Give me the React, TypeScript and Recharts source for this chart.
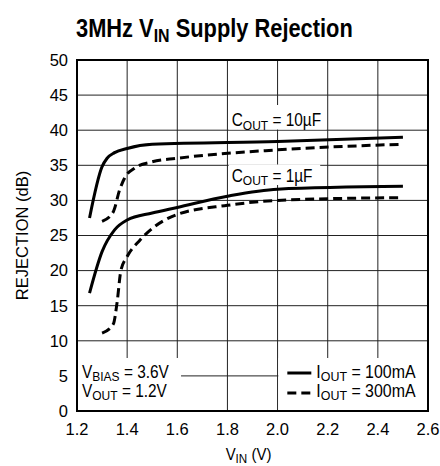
import React from 'react';
import { LineChart, Line, XAxis, YAxis, CartesianGrid, ReferenceArea } from 'recharts';

const FONT = "'Liberation Sans', Arial, Helvetica, sans-serif";

// V_IN (V) / rejection (dB) per curve
const vin10u100 = [1.25, 1.3, 1.32, 1.35, 1.4, 1.5, 2.0, 2.5];
const rej10u100 = [27.5, 34.8, 36.0, 36.8, 37.4, 38.0, 38.4, 39.0];

const vin10u300 = [1.3, 1.345, 1.37, 1.39, 1.43, 1.5, 1.6, 2.0, 2.5];
const rej10u300 = [27.0, 28.4, 31.5, 33.2, 34.6, 35.5, 36.0, 37.2, 38.0];

const vin1u100 = [1.25, 1.3, 1.35, 1.4, 1.5, 1.6, 1.8, 2.0, 2.5];
const rej1u100 = [16.8, 22.7, 25.8, 27.2, 28.2, 29.0, 30.6, 31.6, 32.0];

const vin1u300 = [1.3, 1.345, 1.36, 1.375, 1.4, 1.45, 1.5, 1.6, 1.8, 2.0, 2.5];
const rej1u300 = [11.1, 12.4, 15.5, 20.0, 22.0, 24.3, 26.0, 28.0, 29.3, 30.0, 30.4];

const xTicks = [1.2, 1.4, 1.6, 1.8, 2.0, 2.2, 2.4, 2.6];
const yTicks = [0, 5, 10, 15, 20, 25, 30, 35, 40, 45, 50];

const legendItems = [
  { label: '100mA', dash: undefined as string | undefined },
  { label: '300mA', dash: '9 5' },
];

const zip = (xs: number[], ys: number[]) => xs.map((x, i) => ({ x, y: ys[i] }));

const curves = [
  { key: '10u100', data: zip(vin10u100, rej10u100), dash: undefined as string | undefined },
  { key: '10u300', data: zip(vin10u300, rej10u300), dash: '9 5' },
  { key: '1u100', data: zip(vin1u100, rej1u100), dash: undefined as string | undefined },
  { key: '1u300', data: zip(vin1u300, rej1u300), dash: '9 5' },
];

// condensed-looking text: regular font squeezed horizontally
const Narrow = ({ x, y, sx = 0.88, size = 17.5, anchor, children }: any) => (
  <g transform={`translate(${x} ${y}) scale(${sx} 1)`}>
    <text x={0} y={0} fontSize={size} fontFamily={FONT} fill="#000" textAnchor={anchor}>
      {children}
    </text>
  </g>
);

const Sub = ({ main, sub, rest, size = 17.5 }: { main: string; sub: string; rest: string; size?: number }) => (
  <>
    {main}
    <tspan fontSize={size * 0.78} dy={3}>{sub}</tspan>
    <tspan dy={-3}>{rest}</tspan>
  </>
);

function CapLabel(props: any) {
  const { viewBox, text } = props;
  if (!viewBox) return null;
  const { x, y, height } = viewBox;
  return (
    <Narrow x={x + 3} y={y + height - 3}>
      <Sub main="C" sub="OUT" rest={text} />
    </Narrow>
  );
}

function CondLabel(props: any) {
  const { viewBox } = props;
  if (!viewBox) return null;
  const { x, y } = viewBox;
  return (
    <g>
      <Narrow x={x + 5} y={y + 20}>
        <Sub main="V" sub="BIAS" rest=" = 3.6V" />
      </Narrow>
      <Narrow x={x + 5} y={y + 39}>
        <Sub main="V" sub="OUT" rest=" = 1.2V" />
      </Narrow>
    </g>
  );
}

function LegendLabel(props: any) {
  const { viewBox } = props;
  if (!viewBox) return null;
  const { x, y } = viewBox;
  return (
    <g>
      {legendItems.map((item, i) => (
        <g key={item.label}>
          <line x1={x + 9} x2={x + 33} y1={y + 15 + i * 20} y2={y + 15 + i * 20} stroke="#000" strokeWidth={3} strokeDasharray={item.dash} />
          <Narrow x={x + 38} y={y + 20 + i * 19} sx={0.91}>
            <Sub main="I" sub="OUT" rest={` = ${item.label}`} />
          </Narrow>
        </g>
      ))}
    </g>
  );
}

function XTitle(props: any) {
  const { viewBox } = props;
  if (!viewBox) return null;
  const { x, y, width } = viewBox;
  return (
    <Narrow x={x + width / 2 - 4} y={y + 49} size={17} anchor="middle">
      <Sub main="V" sub="IN" rest=" (V)" size={17} />
    </Narrow>
  );
}

function YTitle(props: any) {
  const { viewBox } = props;
  if (!viewBox) return null;
  const { y, height } = viewBox;
  const cx = 22;
  const cy = y + height / 2;
  return (
    <text x={cx} y={cy} transform={`rotate(-90 ${cx} ${cy})`} textAnchor="middle" dominantBaseline="central" fontSize={16.5} fontFamily={FONT} fill="#000">
      REJECTION (dB)
    </text>
  );
}

export default function App() {
  return (
    <div style={{ position: 'absolute', left: 0, top: 0, width: 440, height: 466, background: '#fff' }}>
      <LineChart width={440} height={466} margin={{ top: 60, right: 12, bottom: 25, left: 37 }}>
        <CartesianGrid stroke="#222" strokeWidth={1} />
        <XAxis
          type="number"
          dataKey="x"
          domain={[1.2, 2.6]}
          ticks={xTicks}
          allowDataOverflow
          tickFormatter={(v: number) => v.toFixed(1)}
          tick={{ fontSize: 16.5, fill: '#000', fontFamily: FONT }}
          tickLine={false}
          axisLine={false}
          tickSize={0}
          tickMargin={12}
          height={30}
          label={<XTitle />}
        />
        <XAxis xAxisId="in" type="number" dataKey="x" domain={[1.2, 2.6]} ticks={xTicks} mirror tick={false} axisLine={false} tickSize={4} tickLine={{ stroke: '#000' }} />
        <YAxis
          type="number"
          domain={[0, 50]}
          ticks={yTicks}
          allowDataOverflow
          tick={{ fontSize: 16.5, fill: '#000', fontFamily: FONT }}
          tickLine={false}
          axisLine={false}
          tickSize={0}
          tickMargin={9}
          width={40}
          label={<YTitle />}
        />
        <YAxis yAxisId="in" type="number" domain={[0, 50]} ticks={yTicks} mirror tick={false} axisLine={false} tickSize={4} tickLine={{ stroke: '#000' }} />
        <ReferenceArea x1={1.805} x2={2.195} y1={40.1} y2={43.6} fill="#fff" fillOpacity={1} stroke="none" label={<CapLabel text=" = 10µF" />} />
        <ReferenceArea x1={1.805} x2={2.17} y1={32.2} y2={35.1} fill="#fff" fillOpacity={1} stroke="none" label={<CapLabel text=" = 1µF" />} />
        <ReferenceArea x1={1.2} x2={1.615} y1={0} y2={7.55} fill="#fff" fillOpacity={1} stroke="none" label={<CondLabel />} />
        <ReferenceArea x1={2.003} x2={2.6} y1={0} y2={7.55} fill="#fff" fillOpacity={1} stroke="none" label={<LegendLabel />} />
        <ReferenceArea x1={1.2} x2={2.6} y1={0} y2={50} fill="none" stroke="#000" strokeWidth={2} ifOverflow="visible" />
        {curves.map((c) => (
          <Line
            key={c.key}
            data={c.data}
            dataKey="y"
            type="monotone"
            stroke="#000"
            strokeWidth={3}
            strokeDasharray={c.dash}
            dot={false}
            activeDot={false}
            isAnimationActive={false}
          />
        ))}
      </LineChart>
      <svg width={440} height={466} style={{ position: 'absolute', left: 0, top: 0, pointerEvents: 'none' }}>
        <g transform="translate(76 37) scale(0.84 1)">
          <text x={0} y={0} fontSize={26} fontWeight="bold" fontFamily={FONT} fill="#000">
            3MHz V<tspan fontSize={19} dy={5}>IN</tspan>
            <tspan dy={-5}> Supply Rejection</tspan>
          </text>
        </g>
      </svg>
    </div>
  );
}
